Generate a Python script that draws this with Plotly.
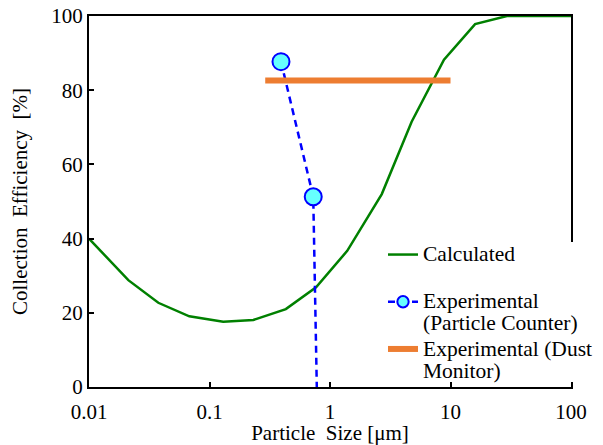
import plotly.graph_objects as go

# Calculated collection efficiency
calc_x = [0.01, 0.0212, 0.0376, 0.068, 0.130, 0.231, 0.43, 0.766, 1.39, 2.69, 4.76, 8.83, 16.0, 29.4, 100]
calc_y = [40.0, 28.8, 22.7, 19.05, 17.6, 18.06, 21.0, 26.9, 36.7, 52.0, 71.5, 88.2, 97.8, 100, 100]

# Experimental (Particle Counter)
pc_x = [0.392, 0.726, 0.777]
pc_y = [87.7, 51.3, 0.0]

# Experimental (Dust Monitor)
dm_x = [0.29, 10.0]
dm_y = [82.6, 82.6]

x_tickvals = [0.01, 0.1, 1, 10, 100]
x_ticktext = ["0.01", "0.1", "1", "10", "100"]
y_tickvals = [0, 20, 40, 60, 80, 100]

FONT = "Liberation Serif, Times New Roman, serif"

def big(s):
    return "<br>".join('<span style="font-size:21.5px">%s</span>' % ln for ln in s.split("<br>"))

fig = go.Figure()
fig.add_trace(go.Scatter(
    x=calc_x, y=calc_y, mode="lines", name=big("Calculated<br>\u00a0"),
    line=dict(color="#008000", width=2.5),
))
fig.add_trace(go.Scatter(
    x=pc_x, y=pc_y, mode="lines+markers", name=big("Experimental<br>(Particle Counter)"),
    line=dict(color="#0000FF", width=2.5, dash="7px,5px"),
    marker=dict(symbol="circle", size=[17, 17, 0], color="#66FFFF", opacity=1,
                line=dict(color="#0000FF", width=2)),
))
fig.add_trace(go.Scatter(
    x=dm_x, y=dm_y, mode="lines", name=big("Experimental (Dust<br>Monitor)"),
    line=dict(color="#ED7D31", width=6),
))

# plot area in pixels: x 89..571, y 16..387
PX0, PX1, PY0, PY1 = 89, 571, 16, 387
def px_x(p):
    return (p - PX0) / (PX1 - PX0)
def px_y(p):
    return (PY1 - p) / (PY1 - PY0)

fig.update_layout(
    width=603, height=445,
    margin=dict(l=89, r=32, t=16, b=58, autoexpand=False),
    paper_bgcolor="white", plot_bgcolor="white",
    font=dict(family=FONT, size=21, color="black"),
    showlegend=True,
    legend=dict(
        x=px_x(383), xanchor="left",
        y=px_y(237), yanchor="top",
        bgcolor="rgba(0,0,0,0)", borderwidth=0,
        font=dict(family=FONT, size=17, color="black"),
        valign="top", tracegroupgap=0,
    ),
    shapes=[dict(
        type="rect", xref="paper", yref="paper", layer="above",
        x0=px_x(565), x1=px_x(578), y0=px_y(382), y1=px_y(242),
        fillcolor="white", line=dict(width=0),
    )],
    xaxis=dict(
        type="log", range=[-2, 2], automargin=False,
        tickvals=x_tickvals, ticktext=x_ticktext,
        ticks="inside", ticklen=5, tickwidth=1.5, tickcolor="black",
        ticklabelstandoff=5,
        showline=True, linecolor="black", linewidth=2, mirror=True,
        showgrid=False, zeroline=False,
        tickfont=dict(size=21),
        title=dict(text="Particle\u00a0 Size [\u03bcm]", font=dict(size=21), standoff=3),
    ),
    yaxis=dict(
        range=[0, 100], automargin=False,
        tickvals=y_tickvals,
        ticks="inside", ticklen=5, tickwidth=1.5, tickcolor="black",
        showline=True, linecolor="black", linewidth=2, mirror=True,
        showgrid=False, zeroline=False,
        tickfont=dict(size=21),
        title=dict(text="Collection\u00a0 Efficiency\u00a0 [%]", font=dict(size=21), standoff=18),
    ),
)

fig.write_html("out.html")
